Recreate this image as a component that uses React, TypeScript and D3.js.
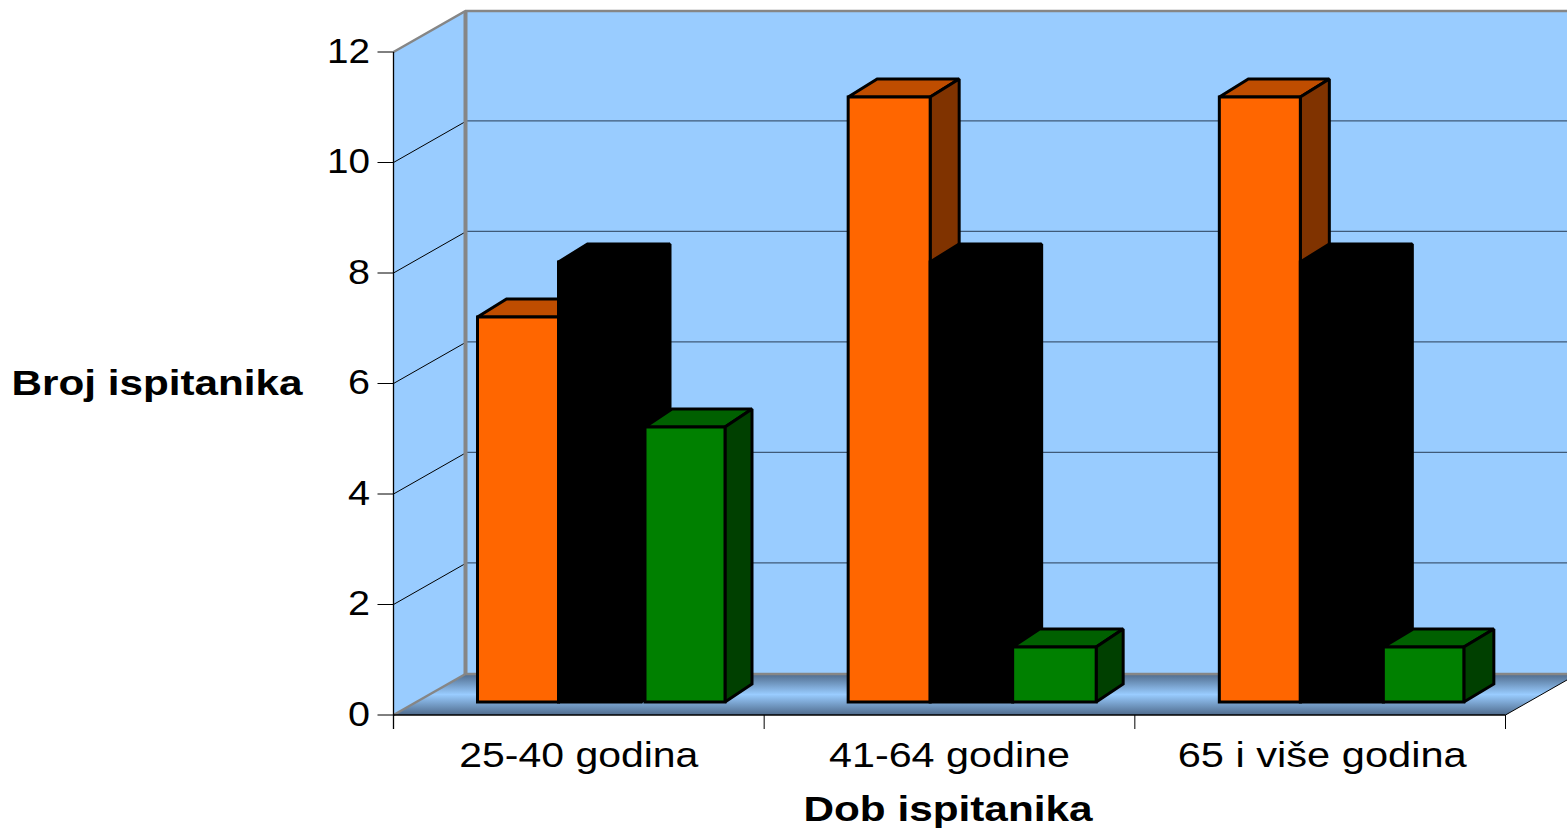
import React from "react";
import * as d3 from "d3";

const categories = ["25-40 godina", "41-64 godine", "65 i više godina"];
const seriesOrange = [7, 11, 11];
const seriesBlack = [8, 8, 8];
const seriesGreen = [5, 1, 1];
const yTicks = [0, 2, 4, 6, 8, 10, 12];

const W = 1567, H = 828;
const FONT = "'Liberation Sans', Arial, sans-serif";

const x = d3.scaleBand<string>().domain(categories).range([393.5, 1505.5]);
const y = d3.scaleLinear().domain([0, 12]).range([715, 52]);
const yBar = d3.scaleLinear().domain([0, 12]).range([702, 42]);
const wallDx = 72, wallDy = -41;
const barDy = -18;

// layout: bar edges measured from each band's start, per group:
// [orange left, black left, black right, green left, green right]
const barEdges = [
  [84, 165, 247.5, 251.5, 331.5],
  [84, 166, 248.5, 248.5, 332],
  [84.5, 165.5, 248.5, 248.5, 329],
];
const greenDepths = [27, 27, 30];
const barDepth = 29;
const labelOffsets = [0, 0, 2];
const labelWidths = [239, 241, 289];

const series = [
  { values: seriesOrange, front: "#FF6600", top: "#BF4D00", side: "#803300" },
  { values: seriesBlack, front: "#000000", top: "#000000", side: "#000000" },
  { values: seriesGreen, front: "#008000", top: "#006000", side: "#004000" },
];

const pts = (a: [number, number][]) => a.map((p) => p.join(",")).join(" ");

function Bar({ x0, x1, dx, v, s }: { x0: number; x1: number; dx: number; v: number; s: (typeof series)[number] }) {
  const b = yBar(0);
  const t = yBar(v);
  const common = { stroke: "#000", strokeWidth: 3, strokeLinejoin: "miter" as const, strokeMiterlimit: 2 };
  return (
    <g>
      <polygon points={pts([[x0, t], [x1, t], [x1 + dx, t + barDy], [x0 + dx, t + barDy]])} fill={s.top} {...common} />
      <polygon points={pts([[x1, t], [x1 + dx, t + barDy], [x1 + dx, b + barDy], [x1, b]])} fill={s.side} {...common} />
      <rect x={x0} y={t} width={x1 - x0} height={b - t} fill={s.front} {...common} />
    </g>
  );
}

export default function App() {
  const x0 = x.range()[0], x1 = x.range()[1];
  return (
    <svg width={W} height={H} viewBox={`0 0 ${W} ${H}`} style={{ position: "absolute", left: 0, top: 0, background: "#fff" }}>
      <defs>
        <linearGradient id="floor" x1="0" y1="0" x2="0" y2="1">
          <stop offset="0" stopColor="#4F6B8C" />
          <stop offset="0.5" stopColor="#99CCFF" />
          <stop offset="1" stopColor="#4F6B8C" />
        </linearGradient>
      </defs>

      {/* back wall */}
      <rect x={x0 + wallDx} y={y(12) + wallDy} width={W} height={y(0) - y(12)} fill="#99CCFF" />
      {/* side wall */}
      <polygon points={pts([[x0, y(12)], [x0 + wallDx, y(12) + wallDy], [x0 + wallDx, y(0) + wallDy], [x0, y(0)]])} fill="#99CCFF" />
      {/* floor */}
      <polygon points={pts([[x0, y(0)], [x1, y(0)], [x1 + wallDx, y(0) + wallDy], [x0 + wallDx, y(0) + wallDy]])} fill="url(#floor)" />

      {/* grid */}
      {yTicks.filter((t) => t > 0 && t < 12).map((t) => (
        <g key={t}>
          <line x1={x0 + wallDx} x2={W} y1={y(t) + wallDy - 0.7} y2={y(t) + wallDy - 0.7} stroke="#3F5A78" strokeWidth={1.2} />
          <line x1={x0} x2={x0 + wallDx} y1={y(t)} y2={y(t) + wallDy} stroke="#000" strokeWidth={1} />
        </g>
      ))}

      {/* wall borders */}
      <polyline points={pts([[x0, y(12)], [x0 + wallDx, y(12) + wallDy], [W, y(12) + wallDy]])} fill="none" stroke="#868686" strokeWidth={2.5} />
      <line x1={x0 + wallDx} x2={x0 + wallDx} y1={y(12) + wallDy} y2={y(0) + wallDy} stroke="#868686" strokeWidth={4} />
      <line x1={x0} x2={x0 + wallDx} y1={y(0)} y2={y(0) + wallDy} stroke="#868686" strokeWidth={2.5} />
      <line x1={x0 + wallDx} x2={W} y1={y(0) + wallDy} y2={y(0) + wallDy} stroke="#868686" strokeWidth={2.5} />
      <line x1={x1} x2={x1 + wallDx} y1={y(0)} y2={y(0) + wallDy} stroke="#000" strokeWidth={1} />

      {/* axes */}
      <line x1={x0} x2={x0} y1={y(12)} y2={y(0) + 14} stroke="#000" strokeWidth={1.3} />
      <line x1={x0} x2={x1} y1={y(0)} y2={y(0)} stroke="#000" strokeWidth={1.3} />
      {yTicks.map((t) => (
        <line key={t} x1={x0 - 16} x2={x0} y1={y(t)} y2={y(t)} stroke="#000" strokeWidth={1} />
      ))}
      {[...categories.map((c) => x(c)!), x1].map((p, i) => (
        <line key={i} x1={p} x2={p} y1={y(0)} y2={y(0) + 14} stroke="#000" strokeWidth={1} />
      ))}

      {/* bars */}
      {categories.map((c, i) => {
        const e = barEdges[i];
        const g = x(c)!;
        return (
          <g key={c}>
            <Bar x0={g + e[0]} x1={g + e[1]} dx={barDepth} v={series[0].values[i]} s={series[0]} />
            <Bar x0={g + e[1]} x1={g + e[2]} dx={barDepth} v={series[1].values[i]} s={series[1]} />
            <Bar x0={g + e[3]} x1={g + e[4]} dx={greenDepths[i]} v={series[2].values[i]} s={series[2]} />
          </g>
        );
      })}

      {/* tick labels */}
      {yTicks.map((t) => (
        <text key={t} x={370} y={y(t) + 10.5} textAnchor="end" fontFamily={FONT} fontSize={35} textLength={t >= 10 ? 43 : 22} lengthAdjust="spacingAndGlyphs">{t}</text>
      ))}
      {categories.map((c, i) => (
        <text key={c} x={x(c)! + x.bandwidth() / 2 + labelOffsets[i]} y={767} textAnchor="middle" fontFamily={FONT} fontSize={35} textLength={labelWidths[i]} lengthAdjust="spacingAndGlyphs">{c}</text>
      ))}
      <text x={948} y={821} textAnchor="middle" fontFamily={FONT} fontWeight="bold" fontSize={35} textLength={289} lengthAdjust="spacingAndGlyphs">Dob ispitanika</text>
      <text x={157} y={395} textAnchor="middle" fontFamily={FONT} fontWeight="bold" fontSize={35} textLength={291} lengthAdjust="spacingAndGlyphs">Broj ispitanika</text>
    </svg>
  );
}
